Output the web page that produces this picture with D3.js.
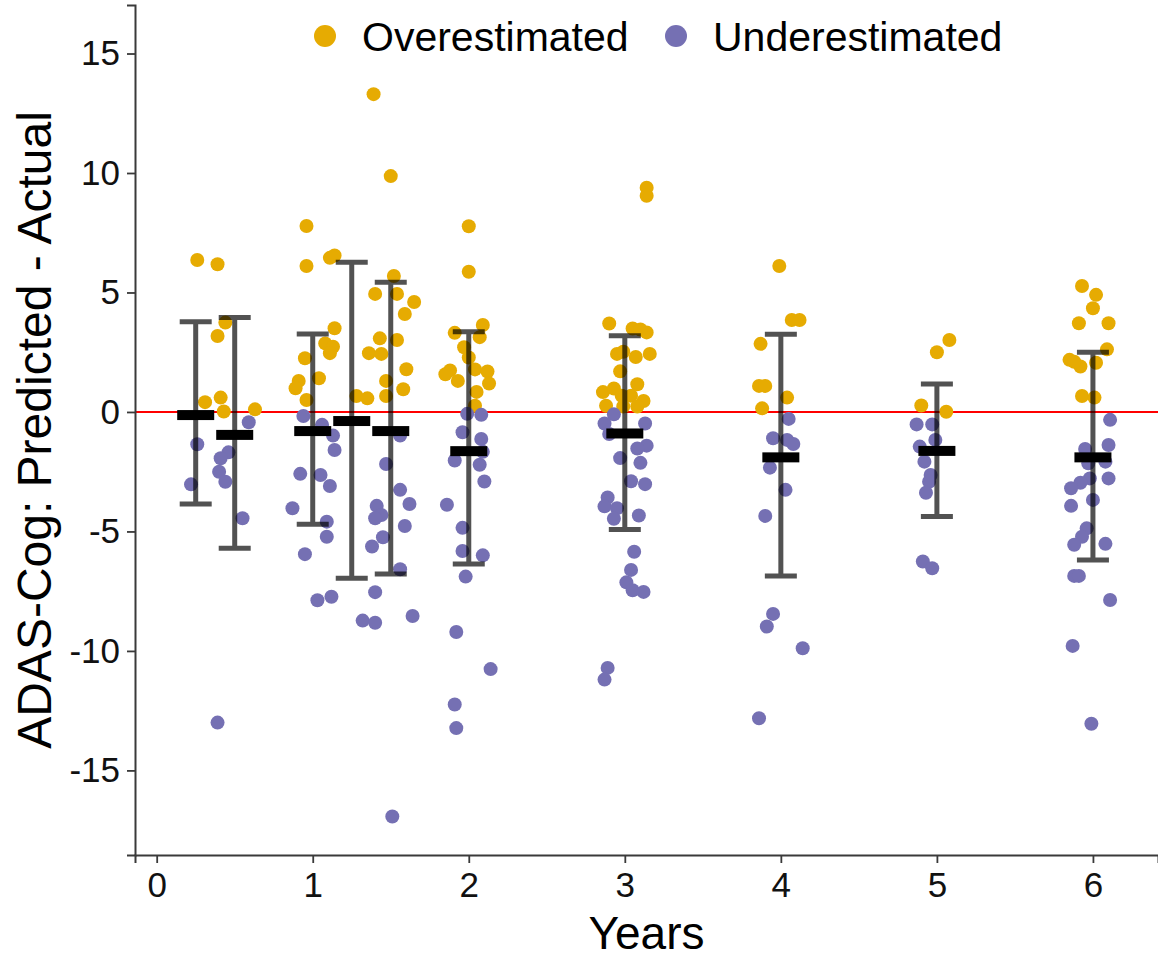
<!DOCTYPE html>
<html>
<head>
<meta charset="utf-8">
<script src="https://cdn.jsdelivr.net/npm/d3@7/dist/d3.min.js"></script>
<style>
  body { margin: 0; background: #fff; }
  svg { display: block; font-family: "Liberation Sans", Arial, sans-serif; }
</style>
</head>
<body>
<svg id="chart" width="1158" height="960"></svg>
<script>
// Jittered [years, predicted - actual] pairs.
const overestimated = [
  [0.26, 6.36], [0.39, 6.18], [0.44, 3.74], [0.39, 3.18], [0.31, 0.41], [0.41, 0.6], [0.43, 0.02], [0.63, 0.11],
  [0.96, 7.78], [0.96, 6.11], [1.11, 6.45], [1.14, 6.55], [1.39, 13.3], [1.5, 9.87], [1.52, 5.69], [1.4, 4.94],
  [1.54, 4.94], [1.65, 4.6], [1.59, 4.1], [1.14, 3.5], [1.08, 2.87], [1.13, 2.73], [1.11, 2.46], [0.95, 2.25],
  [1.43, 3.08], [1.54, 3.01], [1.36, 2.46], [1.44, 2.43], [1.04, 1.41], [0.91, 1.3], [0.89, 0.99], [0.96, 0.5],
  [1.6, 1.79], [1.47, 1.3], [1.58, 0.95], [1.28, 0.67], [1.35, 0.57], [1.47, 0.67],
  [2.0, 7.77], [2.0, 5.87], [2.09, 3.64], [1.91, 3.31], [2.07, 3.13], [1.97, 2.71], [2.0, 2.28], [1.88, 1.74],
  [1.85, 1.58], [1.93, 1.3], [2.04, 1.78], [2.12, 1.69], [2.13, 1.19], [2.05, 0.84], [2.04, 0.26],
  [3.14, 9.38], [3.14, 9.05], [2.9, 3.7], [3.05, 3.49], [3.14, 3.33], [3.1, 3.45], [2.95, 2.43], [2.99, 2.52],
  [3.07, 2.3], [3.16, 2.43], [2.97, 1.7], [3.08, 1.16], [2.86, 0.83], [2.93, 0.98], [2.98, 0.68], [3.04, 0.68],
  [3.12, 0.46], [2.88, 0.26], [2.99, 0.23], [3.08, 0.23],
  [3.99, 6.11], [4.07, 3.85], [4.12, 3.85], [3.87, 2.85], [3.86, 1.09], [3.9, 1.09], [4.04, 0.6], [3.88, 0.15],
  [5.08, 3.01], [5.0, 2.5], [4.9, 0.27], [5.06, 0.01],
  [5.93, 5.27], [6.02, 4.9], [6.0, 4.34], [5.91, 3.71], [6.1, 3.71], [6.09, 2.62], [5.85, 2.18], [5.92, 1.9],
  [6.02, 2.06], [5.88, 2.1], [5.93, 0.67], [6.01, 0.6],
];

const underestimated = [
  [0.59, -0.43], [0.26, -1.35], [0.46, -1.69], [0.41, -1.94], [0.4, -2.5], [0.44, -2.92], [0.22, -3.03],
  [0.55, -4.45], [0.39, -13.0],
  [0.94, -0.17], [1.06, -0.54], [1.13, -0.99], [1.14, -1.59], [1.56, -0.99], [1.47, -2.18], [0.92, -2.59],
  [1.05, -2.64], [1.11, -3.1], [0.87, -4.03], [1.56, -3.26], [1.62, -3.85], [1.41, -3.93], [1.44, -4.31],
  [1.4, -4.45], [1.09, -4.59], [1.09, -5.22], [1.59, -4.77], [1.45, -5.24], [1.38, -5.63], [0.95, -5.95],
  [1.56, -6.58], [1.4, -7.54], [1.03, -7.88], [1.12, -7.73], [1.32, -8.73], [1.4, -8.82], [1.64, -8.54],
  [1.51, -16.93],
  [1.99, -0.08], [2.08, -0.12], [1.96, -0.85], [2.08, -1.13], [1.91, -2.03], [2.07, -2.21], [2.09, -1.67],
  [2.1, -2.91], [1.86, -3.88], [1.96, -4.85], [1.96, -5.82], [2.09, -6.0], [1.98, -6.89], [1.92, -9.21],
  [2.14, -10.76], [1.91, -12.24], [1.92, -13.23],
  [2.93, -0.1], [3.13, -0.48], [2.87, -0.48], [2.9, -0.92], [3.14, -1.41], [3.08, -1.53], [2.97, -1.93],
  [3.1, -2.13], [3.04, -2.9], [3.13, -3.02], [2.89, -3.58], [2.87, -3.95], [2.95, -4.03], [2.93, -4.47],
  [3.09, -4.33], [3.06, -5.85], [3.04, -6.61], [3.01, -7.13], [3.05, -7.46], [3.12, -7.53], [2.89, -10.71],
  [2.87, -11.2],
  [4.05, -0.29], [3.95, -1.1], [4.04, -1.17], [4.08, -1.34], [3.93, -2.33], [4.03, -3.26], [3.9, -4.35],
  [3.95, -8.45], [3.91, -8.98], [4.14, -9.89], [3.86, -12.82],
  [4.87, -0.52], [4.97, -0.52], [4.99, -1.17], [4.89, -1.45], [4.92, -2.08], [4.96, -2.64], [4.95, -2.92],
  [4.93, -3.38], [4.91, -6.26], [4.97, -6.54],
  [6.11, -0.33], [6.1, -1.38], [5.95, -1.55], [5.97, -2.15], [6.08, -2.08], [5.98, -2.78], [6.1, -2.78],
  [5.92, -2.96], [5.86, -3.19], [6.0, -3.68], [5.86, -3.93], [5.96, -4.87], [5.93, -5.22], [5.88, -5.56],
  [6.08, -5.52], [5.88, -6.86], [5.91, -6.86], [6.11, -7.87], [5.87, -9.79], [5.99, -13.05],
];

// Summary per visit: mean and the error bar ends.
const groupYears = [0.25, 0.5, 1, 1.25, 1.5, 2, 3, 4, 5, 6];
const groupMeans = [-0.13, -0.96, -0.8, -0.38, -0.8, -1.64, -0.9, -1.9, -1.63, -1.9];
const groupLower = [-3.85, -5.7, -4.7, -6.96, -6.78, -6.36, -4.92, -6.86, -4.38, -6.19];
const groupUpper = [3.77, 3.95, 3.26, 6.26, 5.43, 3.36, 3.19, 3.25, 1.17, 2.5];

const xTicks = [0, 1, 2, 3, 4, 5, 6];
const yTicks = [-15, -10, -5, 0, 5, 10, 15];
const legendLabels = ['Overestimated', 'Underestimated'];

const COLOR_OVER = '#E6AB02';
const COLOR_UNDER = '#7570B3';
const FONT = '"Liberation Sans", Arial, sans-serif';

const svg = d3.select('#chart');

// Panel spans from the y axis line at the left to the right edge.
const x = d3.scaleLinear().domain([-0.139, 6.417]).range([135, 1158]);
const y = d3.scaleLinear().domain([-18.54, 17.03]).range([855, 5]);

// Zero reference line.
svg.append('line')
  .attr('x1', x.range()[0])
  .attr('x2', x.range()[1])
  .attr('y1', y(0))
  .attr('y2', y(0))
  .attr('stroke', '#ff0000')
  .attr('stroke-width', 2);

// Jittered points, one layer per colour.
const pointLayer = svg.append('g');
[[overestimated, COLOR_OVER], [underestimated, COLOR_UNDER]].forEach(([rows, color]) => {
  pointLayer.append('g')
    .selectAll('circle')
    .data(rows)
    .enter()
    .append('circle')
    .attr('cx', (d) => x(d[0]))
    .attr('cy', (d) => y(d[1]))
    .attr('r', 7)
    .attr('fill', color);
});

// Error bars are semi-transparent, so points show through darker.
const groups = groupYears.map((yr, i) => ({
  yr, mean: groupMeans[i], lo: groupLower[i], hi: groupUpper[i],
}));
const capHalf = 16;

const errLayer = svg.append('g')
  .attr('stroke', 'rgba(0,0,0,0.68)')
  .attr('stroke-width', 5)
  .attr('fill', 'none');

errLayer.selectAll('path')
  .data(groups)
  .enter()
  .append('path')
  .attr('d', (d) => {
    const cx = x(d.yr);
    return `M ${cx - capHalf},${y(d.hi)} H ${cx + capHalf}` +
      ` M ${cx},${y(d.hi) + 2.5} V ${y(d.lo) - 2.5}` +
      ` M ${cx - capHalf},${y(d.lo)} H ${cx + capHalf}`;
  });

// Mean markers.
svg.append('g')
  .selectAll('rect')
  .data(groups)
  .enter()
  .append('rect')
  .attr('x', (d) => x(d.yr) - 18.5)
  .attr('y', (d) => y(d.mean) - 5)
  .attr('width', 37)
  .attr('height', 10)
  .attr('fill', '#000');

// Axes. Plain hyphen minus, as in the source figure.
const fmt = (d) => String(d);
const xAxis = svg.append('g')
  .attr('transform', `translate(0,${y.range()[0]})`)
  .call(d3.axisBottom(x).tickValues(xTicks).tickSize(8).tickPadding(9).tickFormat(fmt));
const yAxis = svg.append('g')
  .attr('transform', `translate(${x.range()[0]},0)`)
  .call(d3.axisLeft(y).tickValues(yTicks).tickSize(8).tickPadding(7).tickFormat(fmt));

[xAxis, yAxis].forEach((ax) => {
  ax.select('.domain').attr('stroke', '#3a3a3a').attr('stroke-width', 2);
  ax.selectAll('.tick line').attr('stroke', '#3a3a3a').attr('stroke-width', 1.8);
  ax.selectAll('.tick text')
    .attr('fill', '#111')
    .style('font-size', '35px')
    .style('font-family', FONT);
});

// Axis titles.
svg.append('text')
  .attr('x', (x.range()[0] + x.range()[1]) / 2)
  .attr('y', 949)
  .attr('text-anchor', 'middle')
  .style('font-size', '46px')
  .text('Years');

svg.append('text')
  .attr('transform', `translate(51,${(y.range()[0] + y.range()[1]) / 2}) rotate(-90)`)
  .attr('text-anchor', 'middle')
  .style('font-size', '48px')
  .text('ADAS-Cog: Predicted - Actual');

// Legend across the top of the panel.
const legend = svg.append('g');
const legendItems = [
  {label: legendLabels[0], color: COLOR_OVER, dotX: 325},
  {label: legendLabels[1], color: COLOR_UNDER, dotX: 676},
];
legendItems.forEach((item) => {
  legend.append('circle')
    .attr('cx', item.dotX)
    .attr('cy', 36)
    .attr('r', 11)
    .attr('fill', item.color);
  legend.append('text')
    .attr('x', item.dotX + 37)
    .attr('y', 51)
    .style('font-size', '41px')
    .text(item.label);
});
</script>
</body>
</html>
